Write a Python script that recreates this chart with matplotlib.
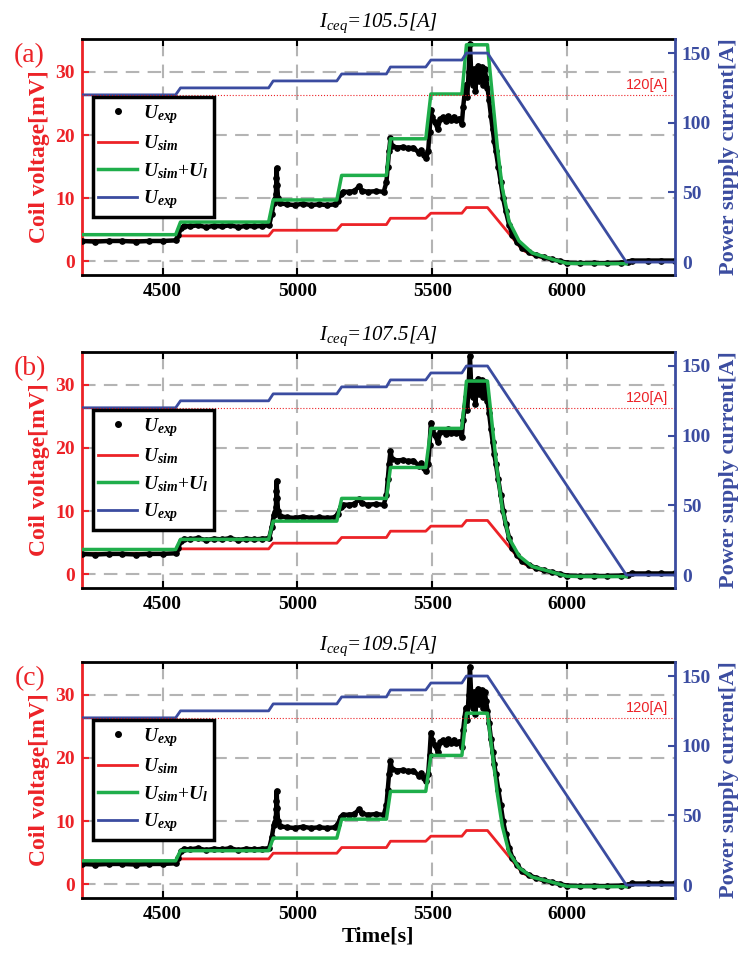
import numpy as np
import matplotlib.pyplot as plt
from matplotlib.lines import Line2D

# Fonts: Times-like serif, bold italic math for the legend, plain italic (\mathsf) for titles
plt.rcParams['font.family'] = 'Liberation Serif'
plt.rcParams['mathtext.fontset'] = 'custom'
plt.rcParams['mathtext.rm'] = 'Liberation Serif:bold'
plt.rcParams['mathtext.it'] = 'Liberation Serif:italic:bold'
plt.rcParams['mathtext.bf'] = 'Liberation Serif:bold'
plt.rcParams['mathtext.sf'] = 'Liberation Serif:italic'

RED = '#ec2227'
GREEN = '#1fae4b'
BLUE = '#3b4ca0'

# Power supply current [A] (right axis), same in every panel
cur_t = [4200, 4548, 4566, 4893, 4910, 5146, 5164, 5330, 5345, 5476, 5495, 5610, 5627, 5705, 6220, 6400]
cur_a = [120, 120, 125, 125, 130, 130, 135, 135, 140, 140, 145, 145, 150, 150, 0, 0]

# U_sim [mV]
sim_t = [4200, 4548, 4566, 4893, 4910, 5146, 5164, 5330, 5345, 5476, 5495, 5610, 5627, 5705,
         5834, 5860, 5884, 5915, 5946, 6000, 6100, 6220]
sim_v = [3.3, 3.3, 4.0, 4.0, 4.9, 4.9, 5.8, 5.8, 6.8, 6.8, 7.6, 7.6, 8.5, 8.5,
         1.8, 1.2, 0.8, 0.5, 0.2, -0.2, -0.3, -0.3]

# U_sim + U_l [mV], one per panel
green_t = [4200, 4548, 4566, 4893, 4910, 5146, 5164, 5330, 5345, 5476, 5495, 5610, 5627, 5705,
           5724, 5742, 5760, 5785, 5822, 5871, 5946, 6000, 6220]
green_a = [4.2, 4.2, 6.2, 6.2, 9.7, 9.7, 13.6, 13.6, 19.4, 19.4, 26.5, 26.5, 34.3, 34.3,
           25.8, 17.9, 11.6, 6.3, 3.2, 1.3, 0.3, -0.35, -0.4]
green_b = [3.9, 3.9, 5.5, 5.5, 8.4, 8.4, 12.0, 12.0, 16.9, 16.9, 23.1, 23.1, 30.6, 30.6,
           23.0, 16.0, 10.4, 5.7, 2.9, 1.2, 0.3, -0.35, -0.4]
green_c = [3.7, 3.7, 5.3, 5.3, 7.3, 7.3, 10.3, 10.3, 14.7, 14.7, 20.4, 20.4, 27.1, 27.1,
           20.4, 14.2, 9.2, 5.0, 2.6, 1.1, 0.3, -0.35, -0.4]

# U_exp measured coil voltage [mV]
exp_t = [4200, 4250, 4300, 4350, 4400, 4450, 4500, 4548, 4558, 4568, 4580,
         4600, 4630, 4660, 4690, 4720, 4750, 4780, 4810, 4840, 4870, 4895,
         4905, 4912, 4918, 4920, 4921, 4922, 4923, 4925, 4928, 4935,
         4960, 4990, 5020, 5050, 5080, 5110, 5140, 5150, 5160, 5170,
         5190, 5210, 5230, 5238, 5260, 5290, 5320, 5330, 5335, 5340, 5345, 5350,
         5370, 5390, 5410, 5430, 5450, 5460, 5470, 5478, 5485, 5490, 5495, 5500,
         5510, 5520, 5530, 5540, 5550, 5560, 5570, 5580, 5590, 5600, 5610,
         5615, 5620, 5625, 5630, 5635, 5640, 5645, 5650, 5655, 5660, 5665, 5670,
         5675, 5680, 5685, 5690, 5695, 5700,
         5705, 5711, 5718, 5724, 5730, 5736, 5745, 5754, 5763, 5773, 5785, 5797,
         5815, 5834, 5860, 5884, 5915, 5946, 5975, 6000, 6050, 6100, 6150, 6200,
         6225, 6240, 6300, 6350, 6400]
exp_v = [3.2, 3.1, 3.2, 3.2, 3.1, 3.2, 3.2, 3.3, 4.2, 5.2, 5.6,
         5.5, 5.7, 5.4, 5.6, 5.5, 5.7, 5.4, 5.6, 5.5, 5.6, 5.7,
         7.5, 9.3, 9.8, 10.6, 11.9, 13.2, 14.8, 12.0, 10.0, 9.2,
         9.0, 8.9, 9.1, 8.9, 9.0, 8.9, 9.0, 9.6, 10.6, 11.0,
         11.0, 11.1, 11.9, 11.2, 11.0, 11.1, 11.0, 12.5, 15.0, 17.5, 19.5, 18.3,
         18.0, 18.1, 17.9, 18.0, 17.2, 17.6, 16.8, 16.4, 17.5, 20.5, 24.0, 22.8,
         22.0, 21.0, 22.5, 22.8, 22.2, 23.0, 22.4, 22.9, 22.3, 22.6, 21.8,
         24.5, 26.5, 28.0, 26.0, 30.0, 34.5, 29.5, 28.0, 30.5, 27.0, 29.5, 31.0,
         28.5, 29.8, 30.8, 28.0, 30.5, 29.0,
         27.5, 25.5, 23.0, 21.0, 19.0, 17.5, 15.0, 12.6, 10.0, 7.9, 5.8, 4.2,
         3.0, 2.1, 1.4, 1.0, 0.6, 0.27, 0.0, -0.25, -0.3, -0.3, -0.3, -0.25,
         -0.1, 0.1, 0.1, 0.1, 0.1]

tags = ['(a)', '(b)', '(c)']
iceq = ['105.5', '107.5', '109.5']
greens = [green_a, green_b, green_c]
bottoms = [0.7132, 0.3869, 0.0636]

fig = plt.figure(figsize=(7.44, 9.59), dpi=100)

for i in range(3):
    ax = fig.add_axes([0.110, bottoms[i], 0.797, 0.246])
    ax2 = ax.twinx()

    ax.plot(sim_t, sim_v, color=RED, lw=2, zorder=2)
    ax.plot(exp_t, exp_v, color='k', lw=3.2, marker='o', ms=3.8, zorder=3)
    ax.plot(green_t, greens[i], color=GREEN, lw=2.5, zorder=4)
    ax2.plot(cur_t, cur_a, color=BLUE, lw=2)
    ax2.axhline(120, color=RED, lw=0.8, ls=':')
    ax2.text(6375, 122, '120[A]', color=RED, fontsize=10.5, family='Liberation Sans',
             ha='right', va='bottom')

    ax.set_xlim(4200, 6400)
    ax.set_ylim(-2.2, 35.2)
    ax2.set_ylim(-9.3, 160)
    ax.set_xticks([4500, 5000, 5500, 6000])
    ax.set_yticks([0, 10, 20, 30])
    ax2.set_yticks([0, 50, 100, 150])

    ax.grid(True, color='#b4b4b4', lw=1.5, ls=(0, (6.5, 4)))
    ax.set_axisbelow(True)

    for s in ['top', 'bottom']:
        ax.spines[s].set_linewidth(2)
        ax.spines[s].set_color('k')
    ax.spines['left'].set_color(RED)
    ax.spines['left'].set_linewidth(2)
    ax.spines['right'].set_visible(False)
    for s in ['left', 'top', 'bottom']:
        ax2.spines[s].set_visible(False)
    ax2.spines['right'].set_color(BLUE)
    ax2.spines['right'].set_linewidth(2)

    ax.tick_params(axis='x', direction='in', top=True, length=5, width=1.5, labelsize=14, pad=6)
    ax.tick_params(axis='y', direction='in', colors=RED, length=5, width=1.5, labelsize=14, pad=5)
    ax2.tick_params(axis='y', direction='in', colors=BLUE, length=5, width=1.5, labelsize=14, pad=5)
    for lab in ax.get_xticklabels() + ax.get_yticklabels() + ax2.get_yticklabels():
        lab.set_fontweight('bold')

    ax.set_ylabel('Coil voltage[mV]', color=RED, fontsize=17, fontweight='bold', labelpad=4)
    ax2.set_ylabel('Power supply current[A]', color=BLUE, fontsize=16, fontweight='bold', labelpad=6)
    ax.set_title(r'$\mathsf{I_{ceq}}$=' + iceq[i] + '[A]', fontsize=15, fontstyle='italic', pad=9)
    ax.text(-0.088, 0.93, tags[i], transform=ax.transAxes, color=RED, fontsize=20,
            ha='center', va='center')

    handles = [Line2D([], [], ls='none', marker='o', color='k', ms=4),
               Line2D([], [], color=RED, lw=2),
               Line2D([], [], color=GREEN, lw=2.5),
               Line2D([], [], color=BLUE, lw=2)]
    labels = [r'$U_{exp}$', r'$U_{sim}$', r'$U_{sim}$+$U_{l}$', r'$U_{exp}$']
    leg = ax2.legend(handles, labels, loc='upper left', bbox_to_anchor=(0.018, 0.755),
                     borderaxespad=0, fontsize=14, frameon=True, fancybox=False,
                     edgecolor='k', framealpha=1, handlelength=2.0, handletextpad=0.3,
                     labelspacing=0.4, borderpad=0.3)
    leg.get_frame().set_linewidth(2.5)

    if i == 2:
        ax.set_xlabel('Time[s]', fontsize=16, fontweight='bold', labelpad=2)

fig.savefig('out.png', dpi=100)
